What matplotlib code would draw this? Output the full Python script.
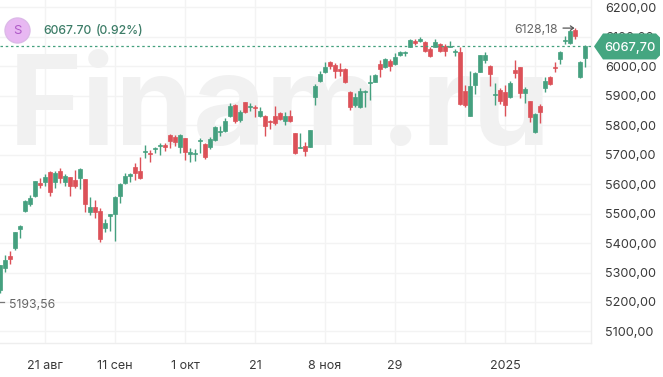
import matplotlib
matplotlib.use("Agg")
import matplotlib.pyplot as plt
import numpy as np
from matplotlib.patches import Polygon, Circle

plt.rcParams['font.family'] = ['Inter', 'DejaVu Sans']

opens = [5241,5316,5356,5383,5448,5509,5533,5559,5604,5607,5641,5607,5645,5607,5624,5614,5621,5617,5505,5522,
         5509,5451,5492,5499,5559,5604,5628,5658,5645,5709,5706,5719,5730,5733,5767,5760,5726,5757,5702,5702,
         5747,5736,5726,5750,5777,5781,5832,5869,5818,5879,5862,5862,5832,5832,5815,5832,5842,5815,5832,5774,
         5723,5730,5726,5896,5950,5981,6015,6005,5991,5991,5913,5869,5862,5913,5944,5947,6008,5998,6018,6008,
         6039,6045,6066,6086,6086,6083,6059,6066,6076,6069,6066,6049,6049,5916,5832,5937,5981,6022,6001,5903,
         5920,5913,5896,5988,5998,5910,5883,5777,5866,5927,5964,5998,6025,6086,6079,6124,5964,6028]
highs = [5326,5360,5373,5438,5461,5546,5563,5611,5621,5634,5645,5645,5655,5634,5624,5648,5655,5617,5556,5546,
         5519,5482,5499,5559,5604,5638,5638,5672,5692,5733,5716,5726,5740,5740,5770,5767,5770,5757,5723,5719,
         5757,5740,5760,5798,5798,5825,5876,5872,5852,5879,5876,5869,5862,5835,5818,5866,5845,5845,5852,5774,
         5774,5743,5784,5940,5984,6015,6018,6011,6011,5994,5916,5910,5927,5920,5971,5974,6022,6028,6025,6045,
         6052,6052,6093,6093,6100,6086,6066,6093,6079,6076,6086,6059,6066,5937,5984,5981,6039,6049,6005,5944,
         5927,5937,5950,6022,5998,5930,5883,5842,5872,5964,5967,6015,6052,6103,6124,6130,6018,6073]
lows = [5231,5302,5329,5376,5417,5505,5526,5556,5587,5594,5559,5587,5604,5594,5559,5587,5583,5505,5495,5485,
        5404,5438,5441,5407,5536,5600,5607,5614,5617,5689,5675,5706,5699,5713,5723,5730,5706,5682,5675,5679,
        5706,5685,5719,5747,5764,5777,5828,5808,5811,5842,5849,5828,5828,5764,5787,5801,5818,5801,5811,5702,
        5723,5696,5726,5869,5947,5978,5991,5961,5967,5944,5852,5862,5859,5862,5886,5947,5964,5994,5984,6005,
        6035,6035,6066,6073,6083,6049,6032,6066,6049,6035,6066,6035,5869,5862,5832,5906,5981,6011,5933,5869,
        5872,5832,5892,5961,5892,5876,5811,5774,5808,5913,5937,5981,6008,6076,6076,6093,5961,5998]
closes = [5326,5343,5346,5438,5458,5543,5553,5611,5597,5624,5573,5638,5621,5628,5594,5594,5651,5533,5522,5505,
          5414,5468,5499,5556,5600,5628,5634,5638,5621,5713,5702,5723,5733,5726,5747,5743,5767,5709,5709,5706,
          5750,5692,5753,5794,5781,5815,5866,5815,5845,5845,5866,5859,5849,5798,5811,5808,5821,5832,5815,5706,
          5726,5713,5784,5933,5974,5998,6001,5984,5984,5947,5862,5896,5916,5916,5947,5971,5991,6025,6001,6032,
          6049,6049,6090,6079,6093,6052,6035,6083,6052,6052,6069,6052,5872,5869,5933,5978,6039,6039,5974,5906,
          5883,5869,5944,5978,5910,5923,5828,5838,5845,5950,5940,5994,6049,6090,6120,6103,6015,6068]

y_ticks = [5100,5200,5300,5400,5500,5600,5700,5800,5900,6000,6100,6200]
x_tick_pos = [9,23,37,51,65,79,101]
x_tick_labels = ["21 авг","11 сен","1 окт","21","8 ноя","29","2025"]
x_extra_grid = [93,107]
last_price = 6067.70
change_pct = 0.92
high_label = "6128,18"
low_label = "5193,56"
low_value = 5193.56

GREEN = "#45a07f"
RED = "#dc5158"
GRID = "#f3f3f3"
TXT = "#3a3a3a"

W, H = 663, 377
fig = plt.figure(figsize=(W/100, H/100), dpi=100, facecolor="white")
ax = fig.add_axes([0, 1-343/H, 590.5/W, 343/H])
PXPP = 0.2945
ax.set_xlim(0, 590.5/5)
ax.set_ylim(6225.4-343/PXPP, 6225.4)

o, h, l, c = map(np.array, (opens, highs, lows, closes))
idx = np.arange(len(o))
col = np.where(c >= o, GREEN, RED)

ax.set_axisbelow(True)
ax.set_yticks(y_ticks)
ax.set_yticklabels([f"{v},00" for v in y_ticks], fontsize=9.1, color=TXT)
ax.yaxis.tick_right()
ax.set_xticks(x_tick_pos)
ax.set_xticklabels(x_tick_labels, fontsize=9, color=TXT)
ax.set_xticks(x_extra_grid, minor=True)
ax.tick_params(axis="both", which="both", length=0)
ax.tick_params(axis="y", pad=10.5)
ax.tick_params(axis="x", pad=12.5)
ax.grid(True, which="both", color=GRID, lw=1)
for s in ("top", "left"):
    ax.spines[s].set_visible(False)
for s in ("right", "bottom"):
    ax.spines[s].set_color("#eeeeee")
    ax.spines[s].set_linewidth(1)

# watermark
ax.text(0.014, 0.577, "Finam.ru", transform=ax.transAxes, fontsize=90, fontweight="bold",
        color="#f1f1f1", va="baseline", ha="left", zorder=1, clip_on=True)

ax.vlines(idx, l, h, colors=col, lw=1.0, zorder=3)
ax.bar(idx, np.abs(c-o), bottom=np.minimum(o, c), width=0.62, color=col,
       edgecolor=col, linewidth=0.5, zorder=4)

ax.axhline(last_price, color=GREEN, lw=0.9, ls=(0, (2, 2.2)), zorder=5)

# header
fig.add_artist(Circle((17.5, H-30.5), 12.5, transform=None, facecolor="#e8b8f2", edgecolor="#dcb9e8", lw=1))
fig.text(17.5/W, 1-31/H, "S", ha="center", va="center", fontsize=9.5, color="#b05ac8")
fig.text(43/W, 1-31/H, f"{last_price:.2f}", ha="left", va="center", fontsize=8.8, color="#3d7d68", fontweight="medium")
fig.text(96/W, 1-31/H, f"({change_pct}%)", ha="left", va="center", fontsize=8.8, color="#3d7d68", fontweight="medium")

# high / low annotations
imax = int(np.argmax(h))
ax.annotate(high_label, xy=(imax, h.max()), xytext=(-61, -2), textcoords="offset pixels",
            ha="left", va="center", fontsize=8.8, color="#666666", zorder=6)
ax.annotate("", xy=(imax-0.1, h.max()), xytext=(imax-2.4, h.max()),
            arrowprops=dict(arrowstyle="->,head_length=0.22,head_width=0.16", color="#555555", lw=0.9, shrinkA=0, shrinkB=0), zorder=6)
imin = int(np.argmin(l))
ax.plot([imin, imin+0.85], [5200, 5200], color="#777777", lw=0.9, zorder=6)
ax.annotate(low_label, xy=(imin, low_value), xytext=(9, -1), textcoords="offset pixels",
            ha="left", va="center", fontsize=8.8, color="#666666", zorder=6)

# price tag
ypx = ax.transData.transform((0, last_price))[1]
tag = Polygon([(594, ypx), (603, ypx+13), (656, ypx+13), (660, ypx+9), (660, ypx-9), (656, ypx-13), (603, ypx-13)],
              closed=True, transform=None, facecolor="#45a681", edgecolor="none", zorder=10)
fig.add_artist(tag)
fig.text(604/W, ypx/H, f"{last_price:.2f}".replace(".", ","), ha="left", va="center_baseline",
         fontsize=9.2, color="white", fontweight="medium", zorder=11)

fig.savefig("out.png", dpi=100)
